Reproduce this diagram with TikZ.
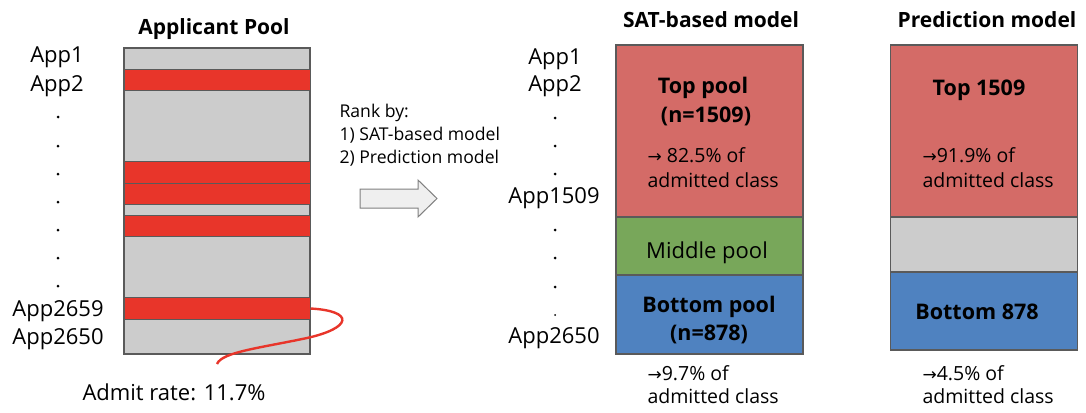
\documentclass[tikz,border=0pt]{standalone}
\usepackage{fontspec}
\setmainfont{Open Sans}
\newfontfamily\arrowfont{DejaVu Sans}

\definecolor{stripered}{HTML}{E8352A}
\definecolor{poolgray}{HTML}{CCCCCC}
\definecolor{topred}{HTML}{D46B67}
\definecolor{midgreen}{HTML}{78A75A}
\definecolor{botblue}{HTML}{4F82C0}
\definecolor{edgegray}{HTML}{5A5A5A}
\definecolor{arrowfill}{HTML}{EFEFEF}

\newcommand{\rarr}{{\arrowfont\fontsize{17}{17}\selectfont →}}

\begin{document}
\begin{tikzpicture}[x=1pt, y=-1pt,
    applabel/.style={font=\fontsize{22}{26}\selectfont, anchor=base},
    title/.style={font=\bfseries\fontsize{21}{25}\selectfont, anchor=base},
    stripe/.style={draw=edgegray, fill=stripered, line width=1pt, minimum width=186pt, minimum height=21.5pt, inner sep=0pt},
    pool/.style={draw=edgegray, line width=1.2pt, minimum width=187pt, inner sep=0pt},
    boldtext/.style={font=\bfseries\fontsize{21.5}{28}\selectfont, anchor=base},
    share/.style={font=\fontsize{19.5}{24}\selectfont, anchor=base west},
    rank/.style={font=\fontsize{17.6}{22.5}\selectfont, anchor=base west}]
    \useasboundingbox (0,0) rectangle (1086,412);

    % applicant pool
    \node[title] (pooltitle) at (214,35) {Applicant Pool};
    \node[draw=edgegray, fill=poolgray, line width=1.2pt, minimum width=186pt, minimum height=306pt, inner sep=0pt] (apppool) at (217,201) {};
    \foreach \yc/\n in {80/s1, 172.5/s2, 194/s3, 226/s4, 308.5/s5}
        \node[stripe] (\n) at (217,\yc) {};

    \node[applabel] (a1) at (57,63) {App1};
    \node[applabel] (a2) at (57,91) {App2};
    \foreach \y in {117,146,174,202,230,258,286}
        \fill (58,\y) circle (1.5pt);
    \node[applabel] (a2659) at (58,316.5) {App2659};
    \node[applabel] (a2650) at (58,344) {App2650};

    \node[applabel] (admit) at (174,400) {Admit rate: 11.7\%};
    \coordinate (admitend) at (217,364);
    \draw[stripered, line width=2.4pt] (s5.east) .. controls (355,311) and (352,328) .. (307,338)
        .. controls (260,348) and (222,352) .. (admitend);

    % ranking
    \node[rank] (rank0) at (336,117) {Rank by:};
    \node[rank] (rank1) at (336,140) {1) SAT-based model};
    \node[rank] (rank2) at (336,163) {2) Prediction model};
    \draw[draw=gray, fill=arrowfill, line width=1pt] (360,189) -- (418,189) -- (418,180) -- (437,198.5)
        -- (418,217) -- (418,208) -- (360,208) -- cycle;

    \node[applabel] (b1) at (555,64) {App1};
    \node[applabel] (b2) at (555,92) {App2};
    \foreach \y in {118,146,174,230,258,287}
        \fill (555,\y) circle (1.5pt);
    \fill (555,315) circle (1pt);
    \node[applabel] (b1509) at (554,203) {App1509};
    \node[applabel] (b2650) at (554,343) {App2650};

    % SAT-based model
    \node[title] (sattitle) at (711,28) {SAT-based model};
    \node[pool, fill=topred, minimum height=172pt] (top) at (709.5,131) {};
    \node[pool, fill=midgreen, minimum height=58pt] (mid) at (709.5,246) {};
    \node[pool, fill=botblue, minimum height=79pt] (bot) at (709.5,314.5) {};
    \node[boldtext] (toptext1) at (703,93) {Top pool};
    \node[boldtext] (toptext2) at (706,122) {(n=1509)};
    \node[share] (topshare1) at (644,162) {\rarr\ 82.5\% of};
    \node[share] (topshare2) at (644,187) {admitted class};
    \node[font=\fontsize{22}{26}\selectfont, anchor=base] (midtext) at (707,258) {Middle pool};
    \node[boldtext] (bottext1) at (709,312) {Bottom pool};
    \node[boldtext] (bottext2) at (709,340) {(n=878)};
    \node[share] (botshare1) at (644,380) {\rarr9.7\% of};
    \node[share] (botshare2) at (644,403) {admitted class};

    % prediction model
    \node[title] (predtitle) at (987,28) {Prediction model};
    \node[pool, fill=topred, minimum height=172pt] (ptop) at (984,131) {};
    \node[pool, fill=poolgray, minimum height=55pt] (pmid) at (984,244.5) {};
    \node[pool, fill=botblue, minimum height=78pt] (pbot) at (984,311) {};
    \node[boldtext] (ptoptext) at (979,95) {Top 1509};
    \node[share] (ptopshare1) at (919,162) {\rarr91.9\% of};
    \node[share] (ptopshare2) at (919,187) {admitted class};
    \node[boldtext] (pbottext) at (977,319) {Bottom 878};
    \node[share] (pbotshare1) at (919,380) {\rarr4.5\% of};
    \node[share] (pbotshare2) at (919,403) {admitted class};
\end{tikzpicture}
\end{document}
